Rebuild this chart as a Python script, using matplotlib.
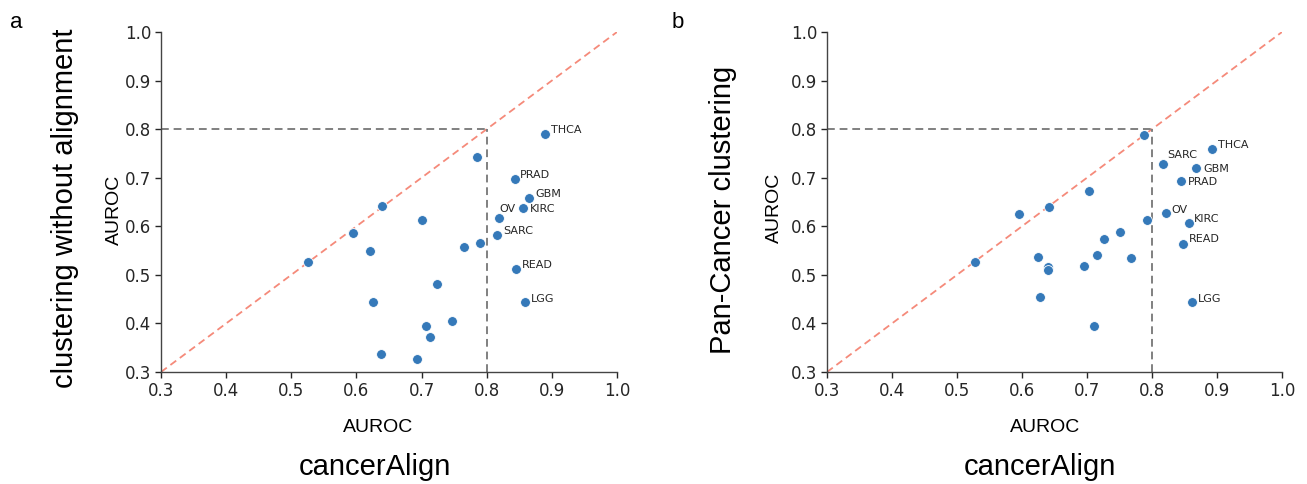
import matplotlib
matplotlib.use("Agg")
import matplotlib.pyplot as plt

# ---------------- data ----------------
# Panel a: cancerAlign AUROC (x) vs clustering without alignment AUROC (y)
a_x = [0.526, 0.594, 0.640, 0.621, 0.626, 0.637, 0.701, 0.723, 0.707, 0.713,
       0.693, 0.747, 0.785, 0.765, 0.789,
       0.889, 0.843, 0.865, 0.855, 0.819, 0.816, 0.845, 0.859]
a_y = [0.527, 0.586, 0.642, 0.550, 0.445, 0.338, 0.612, 0.482, 0.395, 0.373,
       0.326, 0.405, 0.742, 0.558, 0.565,
       0.791, 0.697, 0.659, 0.638, 0.618, 0.583, 0.512, 0.444]
a_lab = [""] * 15 + ["THCA", "PRAD", "GBM", "KIRC", "OV", "SARC", "READ", "LGG"]

# Panel b: cancerAlign AUROC (x) vs Pan-Cancer clustering AUROC (y)
b_x = [0.528, 0.595, 0.787, 0.703, 0.642, 0.792, 0.750, 0.726, 0.624, 0.715,
       0.768, 0.640, 0.640, 0.696, 0.628, 0.710,
       0.817, 0.892, 0.868, 0.845, 0.822, 0.857, 0.847, 0.862]
b_y = [0.527, 0.626, 0.787, 0.673, 0.640, 0.613, 0.588, 0.574, 0.537, 0.541,
       0.535, 0.516, 0.510, 0.518, 0.455, 0.395,
       0.728, 0.759, 0.721, 0.693, 0.628, 0.606, 0.564, 0.444]
b_lab = [""] * 16 + ["SARC", "THCA", "GBM", "PRAD", "OV", "KIRC", "READ", "LGG"]

ticks = [0.3, 0.4, 0.5, 0.6, 0.7, 0.8, 0.9, 1.0]
tick_labels = ["0.3", "0.4", "0.5", "0.6", "0.7", "0.8", "0.9", "1.0"]

# label offsets (pixels: dx to text left, dy of text centre, down positive)
a_off = {"THCA": (6, -4), "PRAD": (5, -4), "GBM": (6, -4), "KIRC": (7, 1),
         "OV": (0, -9), "SARC": (6, -4), "READ": (6, -4), "LGG": (6, -3)}
b_off = {"THCA": (6, -4), "SARC": (4, -9), "GBM": (7, 1), "PRAD": (7, 1),
         "OV": (5, -3), "KIRC": (5, -4), "READ": (6, -5), "LGG": (6, -3)}

W, H = 1307, 484
fig = plt.figure(figsize=(W / 100, H / 100), dpi=100)

BLUE = "#3579b9"
SALMON = "#f58a7a"
GRAY = "#808080"
TXT = "#262626"
ARIAL = ["Liberation Sans", "DejaVu Sans"]


def make_panel(left_px, right_px, xs, ys, labs, offs):
    top_px, bot_px = 32, 372
    ax = fig.add_axes([left_px / W, 1 - bot_px / H,
                       (right_px - left_px) / W, (bot_px - top_px) / H])
    ax.set_xlim(0.3, 1.0)
    ax.set_ylim(0.3, 1.0)
    ax.plot([0.3, 1.0], [0.3, 1.0], ls=(0, (4, 2.5)), color=SALMON, lw=1.3, zorder=1)
    ax.plot([0.3, 0.8], [0.8, 0.8], ls=(0, (4, 2.5)), color=GRAY, lw=1.4, zorder=1)
    ax.plot([0.8, 0.8], [0.3, 0.8], ls=(0, (4, 2.5)), color=GRAY, lw=1.4, zorder=1)
    ax.scatter(xs, ys, s=50, color=BLUE, edgecolor="white", linewidth=0.6, zorder=3)
    for x, y, t in zip(xs, ys, labs):
        if t:
            dx, dy = offs[t]
            ax.annotate(t, (x, y), xytext=(dx * 0.72, -dy * 0.72),
                        textcoords="offset points", fontsize=8,
                        ha="left", va="center", color=TXT)
    ax.set_xticks(ticks)
    ax.set_xticklabels(tick_labels)
    ax.set_yticks(ticks)
    ax.set_yticklabels(tick_labels)
    ax.tick_params(labelsize=12, colors=TXT, length=4, width=1, pad=3)
    for s in ("top", "right"):
        ax.spines[s].set_visible(False)
    for s in ("left", "bottom"):
        ax.spines[s].set_color("#444444")
        ax.spines[s].set_linewidth(1.0)
    return ax


make_panel(161, 617, a_x, a_y, a_lab, a_off)
make_panel(827, 1282, b_x, b_y, b_lab, b_off)

# axis labels
fig.text(378 / W, 1 - 427 / H, "AUROC", fontsize=14, family=ARIAL,
         ha="center", va="center")
fig.text(375 / W, 1 - 467 / H, "cancerAlign", fontsize=21, family=ARIAL,
         ha="center", va="center")
fig.text(1045 / W, 1 - 427 / H, "AUROC", fontsize=14, family=ARIAL,
         ha="center", va="center")
fig.text(1040 / W, 1 - 467 / H, "cancerAlign", fontsize=21, family=ARIAL,
         ha="center", va="center")

fig.text(114 / W, 1 - 210 / H, "AUROC", fontsize=14, family=ARIAL,
         ha="center", va="center", rotation=90)
fig.text(65 / W, 1 - 208 / H, "clustering without alignment", fontsize=21,
         family=ARIAL, ha="center", va="center", rotation=90)
fig.text(774 / W, 1 - 208 / H, "AUROC", fontsize=14, family=ARIAL,
         ha="center", va="center", rotation=90)
fig.text(723 / W, 1 - 210 / H, "Pan-Cancer clustering", fontsize=21,
         family=ARIAL, ha="center", va="center", rotation=90)

fig.text(16 / W, 1 - 22 / H, "a", fontsize=16, family=ARIAL, ha="center", va="center")
fig.text(678 / W, 1 - 22 / H, "b", fontsize=16, family=ARIAL, ha="center", va="center")

fig.savefig("out.png", dpi=100)
